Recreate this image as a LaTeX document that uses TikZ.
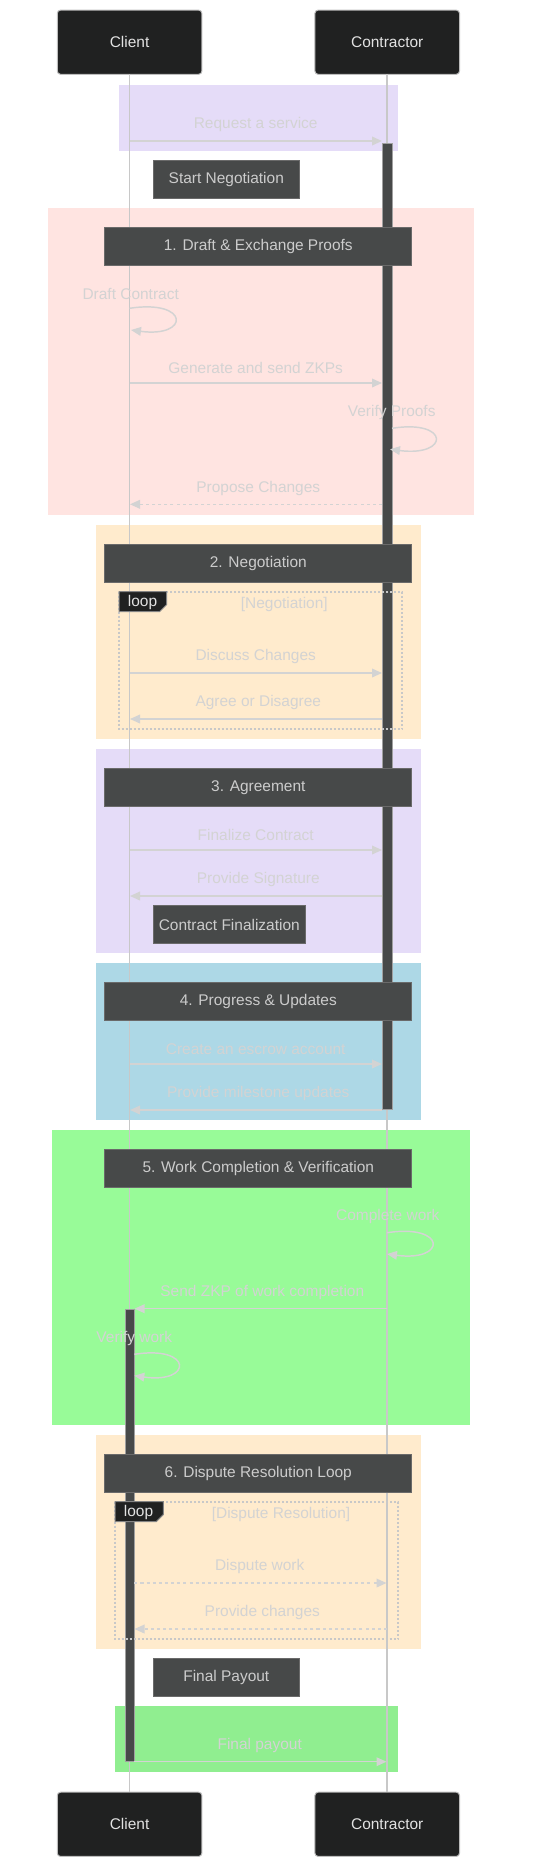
\documentclass[tikz,border=0pt]{standalone}
\usepackage{fontspec}
\setmainfont{Liberation Sans}
\usetikzlibrary{arrows.meta}
\definecolor{actorfill}{HTML}{202121}
\definecolor{actorborder}{HTML}{BDBDBD}
\definecolor{actortext}{HTML}{E2E2E2}
\definecolor{notefill}{HTML}{474949}
\definecolor{noteborder}{HTML}{6A6A6A}
\definecolor{notetext}{HTML}{CCCCCC}
\definecolor{msgcol}{HTML}{D3D3D3}
\definecolor{lifecol}{HTML}{C8C8C8}
\definecolor{rpurple}{RGB}{229,220,248}
\definecolor{rred}{RGB}{255,228,225}
\definecolor{rorange}{RGB}{255,235,205}
\definecolor{rblue}{RGB}{173,216,230}
\definecolor{rgreen}{RGB}{152,251,152}
\definecolor{rgreentwo}{RGB}{144,238,144}
\begin{document}
\begin{tikzpicture}[x=0.75pt,y=-0.75pt,
  every node/.style={font=\fontsize{11.6pt}{13pt}\selectfont, inner sep=0pt, outer sep=0pt},
  actor/.style={draw=actorborder, fill=actorfill, line width=0.75pt, rounded corners=2.5pt,
    minimum width=108.5pt, minimum height=48.2pt, text=actortext},
  phasenote/.style={draw=noteborder, fill=notefill, line width=0.75pt, minimum width=230pt,
    minimum height=28.2pt, text=notetext},
  smallnote/.style={draw=noteborder, fill=notefill, line width=0.75pt,
    minimum height=28.5pt, text=notetext},
  msgtext/.style={text=msgcol},
  msg/.style={draw=msgcol, line width=1.1pt, -{Triangle[length=7.5pt,width=6.5pt]}},
  dmsg/.style={msg, dash pattern=on 2.3pt off 2.3pt},
  lifeline/.style={draw=lifecol, line width=1.1pt},
  actbar/.style={fill=notefill, draw=lifecol!80!black, line width=0.5pt},
  loopframe/.style={draw=lifecol, line width=1.3pt, dash pattern=on 1.5pt off 1.5pt},
  looplabel/.style={fill=actorfill, draw=actorborder!70!black, line width=0.75pt},
  looptext/.style={text=actortext},
  condtext/.style={text=msgcol}
]
\useasboundingbox (0,0) rectangle (540,1868);

% background rects
\fill[rpurple] (119,85) rectangle (397.7,150.7);
\fill[rred] (48.3,208.3) rectangle (474.3,514.7);
\fill[rorange] (95.7,525) rectangle (421,739);
\fill[rpurple] (95.7,749) rectangle (421,952.7);
\fill[rblue] (95.7,963) rectangle (421,1119.7);
\fill[rgreen] (52.3,1130) rectangle (470.3,1424.7);
\fill[rorange] (95.7,1435) rectangle (421,1649);
\fill[rgreentwo] (115.3,1706) rectangle (397.7,1771.7);

% actors
\node[actor] (clientTop) at (129.6,42.2) {Client};
\node[actor] (contrTop) at (387.2,42.2) {Contractor};
\node[actor] (clientBot) at (129.6,1824.3) {Client};
\node[actor] (contrBot) at (387.2,1824.3) {Contractor};

% lifelines
\draw[lifeline] (clientTop.south) -- (clientBot.north);
\draw[lifeline] (contrTop.south) -- (contrBot.north);

% activation bars
\draw[actbar] (382.3,143.3) rectangle (392,1109.3);
\draw[actbar] (125.3,1309.7) rectangle (134.3,1761.7);

% notes
\node[smallnote, minimum width=109.5pt] (startNeg) at (226.3,179.3) {Start Negotiation};
\node[phasenote] (p1) at (258.3,246.3) {1. Draft \& Exchange Proofs};
\node[phasenote] (p2) at (258.3,563.3) {2. Negotiation};
\node[phasenote] (p3) at (258.3,787.3) {3. Agreement};
\node[smallnote, minimum width=114pt] (contrFin) at (229.3,924.5) {Contract Finalization};
\node[phasenote] (p4) at (258.3,1001.5) {4. Progress \& Updates};
\node[phasenote] (p5) at (258.3,1168.5) {5. Work Completion \& Verification};
\node[phasenote] (p6) at (258.3,1473.3) {6. Dispute Resolution Loop};
\node[smallnote, minimum width=109.5pt] (finPay) at (226.3,1677.3) {Final Payout};

% loop frames
\draw[loopframe] (119,591.7) rectangle (402.3,729);
\draw[looplabel] (119,591.7) -- (166.7,591.7) -- (166.7,604.5) -- (159.5,611.7) -- (119,611.7) -- cycle;
\node[looptext] (loopA) at (142.5,602.5) {loop};
\node[condtext] (condA) at (284.3,604.3) {[Negotiation]};

\draw[loopframe] (115,1501.7) rectangle (398.3,1639);
\draw[looplabel] (115,1501.7) -- (163.3,1501.7) -- (163.3,1514.5) -- (156.1,1521.7) -- (115,1521.7) -- cycle;
\node[looptext] (loopB) at (138.5,1512.5) {loop};
\node[condtext] (condB) at (281,1514.3) {[Dispute Resolution]};

% message end points
\coordinate (m1a) at (129.5,141);   \coordinate (m1b) at (382,141);
\coordinate (m2a) at (129.5,383);   \coordinate (m2b) at (382,383);
\coordinate (m3a) at (382,504.3);   \coordinate (m3b) at (130,504.3);
\coordinate (m4a) at (129.5,673);   \coordinate (m4b) at (382,673);
\coordinate (m5a) at (382,719);     \coordinate (m5b) at (130,719);
\coordinate (m6a) at (129.5,850);   \coordinate (m6b) at (382,850);
\coordinate (m7a) at (382,896);     \coordinate (m7b) at (130,896);
\coordinate (m8a) at (129.5,1064);  \coordinate (m8b) at (382,1064);
\coordinate (m9a) at (382,1110);    \coordinate (m9b) at (130,1110);
\coordinate (m10a) at (387,1308.7); \coordinate (m10b) at (134.5,1308.7);
\coordinate (m11a) at (134.3,1583); \coordinate (m11b) at (386.5,1583);
\coordinate (m12a) at (387,1629);   \coordinate (m12b) at (134.5,1629);
\coordinate (m13a) at (134.3,1761.7); \coordinate (m13b) at (386.5,1761.7);

% messages
\node[msgtext] (t1) at (255.7,124.3) {Request a service};
\draw[msg] (m1a) -- (m1b);
\node[msgtext] (t2) at (255.7,368.3) {Generate and send ZKPs};
\draw[msg] (m2a) -- (m2b);
\node[msgtext] (t3) at (258.3,488.3) {Propose Changes};
\draw[dmsg] (m3a) -- (m3b);
\node[msgtext] (t4) at (255.7,656.3) {Discuss Changes};
\draw[msg] (m4a) -- (m4b);
\node[msgtext] (t5) at (258.3,702.3) {Agree or Disagree};
\draw[msg] (m5a) -- (m5b);
\node[msgtext] (t6) at (255.7,835) {Finalize Contract};
\draw[msg] (m6a) -- (m6b);
\node[msgtext] (t7) at (258.3,879.3) {Provide Signature};
\draw[msg] (m7a) -- (m7b);
\node[msgtext] (t8) at (255.7,1049.3) {Create an escrow account};
\draw[msg] (m8a) -- (m8b);
\node[msgtext] (t9) at (258.3,1093.3) {Provide milestone updates};
\draw[msg] (m9a) -- (m9b);
\node[msgtext] (t10) at (262.3,1292.3) {Send ZKP of work completion};
\draw[msg] (m10a) -- (m10b);
\node[msgtext] (t11) at (259.7,1566.3) {Dispute work};
\draw[dmsg] (m11a) -- (m11b);
\node[msgtext] (t12) at (262.3,1612.3) {Provide changes};
\draw[dmsg] (m12a) -- (m12b);
\node[msgtext] (t13) at (259.7,1745) {Final payout};
\draw[msg] (m13a) -- (m13b);

% self messages
\node[msgtext] (s1) at (130.7,294.3) {Draft Contract};
\coordinate (s1a) at (129.5,308.3); \coordinate (s1b) at (131,330);
\draw[msg] (s1a) .. controls (190,299) and (190,338) .. (s1b);

\node[msgtext] (s2) at (391.7,412.3) {Verify Proofs};
\coordinate (s2a) at (392,428.3); \coordinate (s2b) at (390,449.3);
\draw[msg] (s2a) .. controls (450,419) and (450,457) .. (s2b);

\node[msgtext] (s3) at (387.7,1216.7) {Complete work};
\coordinate (s3a) at (387,1232.7); \coordinate (s3b) at (387,1254);
\draw[msg] (s3a) .. controls (447,1223.5) and (447,1262) .. (s3b);

\node[msgtext] (s4) at (134.3,1338.3) {Verify work};
\coordinate (s4a) at (134.3,1354.3); \coordinate (s4b) at (134.3,1375.7);
\draw[msg] (s4a) .. controls (193,1345) and (193,1384) .. (s4b);
\end{tikzpicture}
\end{document}
